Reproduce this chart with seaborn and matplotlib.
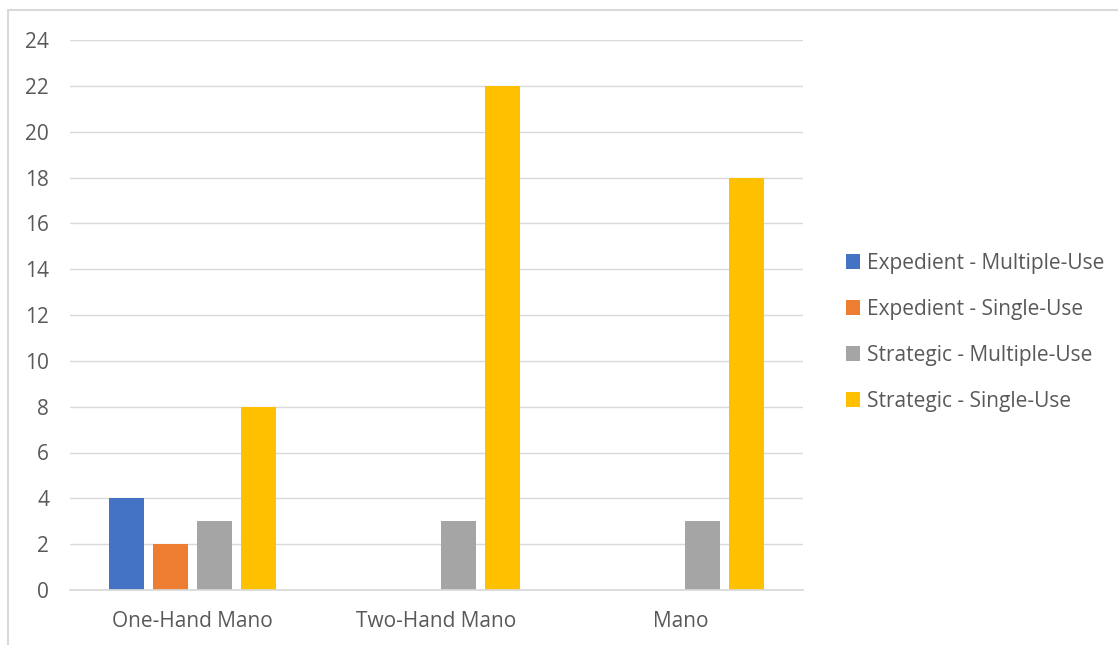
import matplotlib
matplotlib.use("Agg")
import matplotlib.pyplot as plt
import seaborn as sns
import pandas as pd
from matplotlib.patches import Rectangle, Patch

categories = ["One-Hand Mano", "Two-Hand Mano", "Mano"]
series = ["Expedient - Multiple-Use", "Expedient - Single-Use",
          "Strategic - Multiple-Use", "Strategic - Single-Use"]
exp_multi = [4, 0, 0]
exp_single = [2, 0, 0]
str_multi = [3, 3, 3]
str_single = [8, 22, 18]
colors = ["#4472C4", "#ED7D31", "#A5A5A5", "#FFC000"]
yticks = list(range(0, 25, 2))

rows = []
for s, vals in zip(series, [exp_multi, exp_single, str_multi, str_single]):
    for c, v in zip(categories, vals):
        rows.append({"cat": c, "series": s, "value": v})
df = pd.DataFrame(rows)

sns.set_theme(style="white")
plt.rcParams["font.family"] = ["Open Sans", "DejaVu Sans"]
txt = "#595959"

fig = plt.figure(figsize=(11.18, 6.45), dpi=100)
ax = fig.add_axes([70/1118, 1-590/645, (803-70)/1118, (590-40)/645])
sns.barplot(data=df, x="cat", y="value", hue="series", order=categories,
            hue_order=series, palette=colors, width=0.72, gap=0.2,
            linewidth=0, saturation=1, ax=ax, legend=False, errorbar=None)

ax.set_ylim(0, 24)
ax.set_yticks(yticks)
ax.set_xlim(-0.5, 2.5)
ax.grid(axis="y", color="#D9D9D9", linewidth=1)
ax.set_axisbelow(True)
for s in ["top", "right", "left"]:
    ax.spines[s].set_visible(False)
ax.spines["bottom"].set_color("#D9D9D9")
ax.tick_params(axis="both", length=0, labelsize=15, colors=txt)
ax.tick_params(axis="x", pad=15)
ax.tick_params(axis="y", pad=15)
ax.set_xlabel("")
ax.set_ylabel("")

handles = [Patch(facecolor=c, edgecolor="none") for c in colors]
fig.legend(handles, series, loc="center left", bbox_to_anchor=(827/1118, 1-332/645),
           frameon=False, fontsize=15, labelcolor=txt, handlelength=0.7,
           handleheight=0.7, handletextpad=0.3, labelspacing=1.2)

fig.patches.append(Rectangle((8/1118, -0.1), 1.2, 1-10/645+0.1, transform=fig.transFigure,
                             fill=False, edgecolor="#D9D9D9", linewidth=1.5))

fig.savefig("out.png", dpi=100)
